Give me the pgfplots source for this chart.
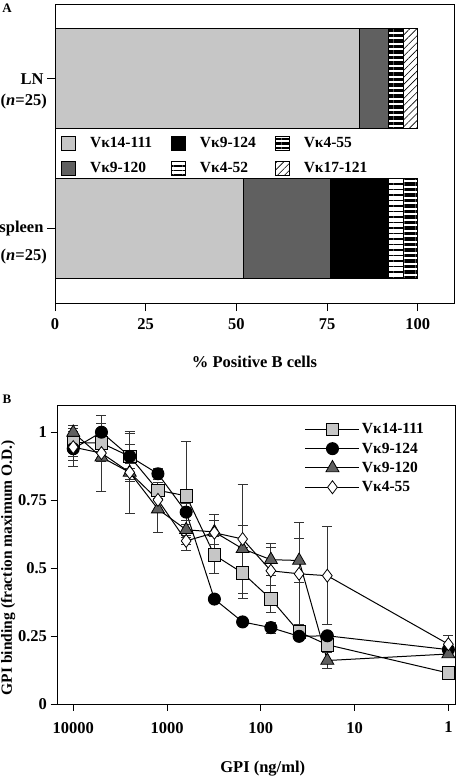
\documentclass[border=0pt]{standalone}
\usepackage{fontspec}
\setmainfont{Liberation Serif}
\usepackage{pgfplots}
\pgfplotsset{compat=1.18}
\usetikzlibrary{patterns.meta}

\definecolor{lgray}{RGB}{198,198,198}
\definecolor{dgray}{RGB}{96,96,96}
\newcommand{\fs}{\fontsize{16.5}{19}\selectfont\bfseries}
\newcommand{\fl}{\fontsize{15.5}{18}\selectfont\bfseries}

\pgfplotstableread{
x y e
10000 0.962 0.05
5000 0.960 0.03
2500 0.911 0.043
1250 0.786 0.03
625 0.766 0.20
312.5 0.548 0.068
156.25 0.482 0.093
78.125 0.386 0.05
39.0625 0.265 0.02
19.53 0.218 0.02
1 0.114 0.01
}\tabA
\pgfplotstableread{
x y e
10000 0.939 0.065
5000 1.000 0.06
2500 0.911 0.085
1250 0.847 0.02
625 0.706 0.03
312.5 0.386 0.01
156.25 0.302 0.01
78.125 0.281 0.02
39.0625 0.249 0.01
19.53 0.251 0.01
1 0.200 0.02
}\tabB
\pgfplotstableread{
x y e
10000 0.999 0.025
5000 0.908 0.125
2500 0.852 0.033
1250 0.717 0.085
625 0.641 0.02
312.5 0.633 0.066
156.25 0.571 0.085
78.125 0.531 0.06
39.0625 0.528 0.08
19.53 0.160 0.03
1 0.184 0.01
}\tabC
\pgfplotstableread{
x y e
10000 0.945 0.05
5000 0.923 0.03
2500 0.852 0.15
1250 0.751 0.04
625 0.600 0.014
312.5 0.630 0.044
156.25 0.607 0.2
78.125 0.490 0.086
39.0625 0.479 0.188
19.53 0.472 0.18
1 0.220 0.033
}\tabD

\begin{document}
\begin{tikzpicture}
\useasboundingbox (0,0) rectangle (458pt,-778pt);
\node[font=\fontsize{13}{15}\selectfont\bfseries] at (7pt,-8pt) {A};
\node[font=\fontsize{13}{15}\selectfont\bfseries] at (7pt,-399pt) {B};

\begin{axis}[
  at={(55pt,-4pt)}, anchor=north west,
  scale only axis, width=399pt, height=299pt,
  clip=false,
  xbar stacked, bar width=0.667,
  xmin=0, xmax=110, ymin=-0.5, ymax=1.5,
  xtick={0,25,50,75,100},
  ytick={0,1}, yticklabels={spleen,LN},
  xtick pos=bottom, ytick pos=left,
  tick align=outside, major tick length=8pt,
  tick style={black, line width=0.9pt},
  axis line style={black, line width=0.9pt},
  ticklabel style={font=\fs},
  xticklabel style={yshift=-4pt},
  /pgf/number format/assume math mode=true,
  xlabel={\% Positive B cells},
  xlabel style={font=\fs, at={(axis description cs:0.5,-0.197)}, anchor=center},
  legend columns=3,
  legend cell align=left,
  legend style={at={(rel axis cs:0.008,0.567)}, anchor=north west, draw=none, fill=none, font=\fl,
    /tikz/every even column/.append style={column sep=17pt},
    /tikz/every odd column/.append style={column sep=12pt},
    row sep=9pt},
  legend image code/.code={\draw[#1, draw=black, line width=0.8pt] (0pt,-7pt) rectangle (14pt,7pt);},
]
\addplot[forget plot, fill=lgray, draw=black, line width=0.8pt] coordinates {(52,0) (84,1)};
\addplot[forget plot, fill=dgray, draw=black, line width=0.8pt] coordinates {(24,0) (8,1)};
\addplot[forget plot, fill=black, draw=black, line width=0.8pt] coordinates {(16,0) (0,1)};
\addplot[forget plot, pattern={Lines[angle=0,distance=5.5pt,line width=1.6pt]}, draw=black, line width=0.8pt] coordinates {(4,0) (0,1)};
\addplot[forget plot, pattern={Lines[angle=0,distance=5.5pt,line width=3.6pt]}, draw=black, line width=0.8pt] coordinates {(4,0) (4,1)};
\addplot[forget plot, pattern={Lines[angle=45,distance=5pt,line width=0.6pt]}, draw=black, line width=0.8pt] coordinates {(0,0) (4,1)};
\addlegendimage{fill=lgray}
\addlegendimage{fill=black}
\addlegendimage{pattern={Lines[angle=0,distance=4.5pt,line width=2.8pt]}}
\addlegendimage{fill=dgray}
\addlegendimage{pattern={Lines[angle=0,distance=4.5pt,line width=1.3pt]}}
\addlegendimage{pattern={Lines[angle=45,distance=5pt,line width=0.6pt]}}
\legend{Vκ14-111, Vκ9-124, Vκ4-55, Vκ9-120, Vκ4-52, Vκ17-121}
\node[anchor=east, inner sep=0pt, font=\fs] at (axis cs:0,0.845) [xshift=-8pt] {(\textit{n}=25)};
\node[anchor=east, inner sep=0pt, font=\fs] at (axis cs:0,-0.19) [xshift=-8pt] {(\textit{n}=25)};
\end{axis}

\begin{axis}[
  at={(57pt,-405pt)}, anchor=north west,
  scale only axis, width=398pt, height=299pt,
  xmode=log, x dir=reverse,
  xmin=0.85, xmax=14900, ymin=0, ymax=1.1,
  xtick={1,10,100,1000,10000}, xticklabels={1,10,100,1000,10000},
  xminorticks=false,
  ytick={0,0.25,0.5,0.75,1}, yticklabels={0,0.25,0.5,0.75,1},
  xtick pos=bottom, ytick pos=left,
  tick align=outside, major tick length=6.5pt,
  tick style={black, line width=0.9pt},
  axis line style={black, line width=0.9pt},
  ticklabel style={font=\fs},
  xticklabel style={yshift=-8pt},
  /pgf/number format/assume math mode=true,
  xlabel={GPI (ng/ml)},
  xlabel style={font=\fs, at={(axis description cs:0.517,-0.217)}, anchor=center},
  ylabel={GPI binding (fraction maximum O.D.)},
  ylabel style={font=\fontsize{15.5}{18}\selectfont\bfseries, at={(axis description cs:-0.123,0.456)}, anchor=center},
  legend cell align=left,
  legend style={at={(rel axis cs:0.615,0.952)}, anchor=north west, draw=none, fill=none, font=\fl,
    row sep=3.5pt, /tikz/every even column/.append style={column sep=27pt}},
  legend image code/.code={\draw[mark repeat=2, mark phase=2, #1] plot coordinates {(0pt,0pt) (27pt,0pt) (54pt,0pt)};},
  error bars/y dir=both, error bars/y explicit,
  error bars/error bar style={line width=1pt, black!80},
  error bars/error mark options={rotate=90, mark size=5pt, line width=1pt, black!80},
]
\addplot[black, line width=1pt, mark=square*, mark size=6.2pt, mark options={fill=lgray, draw=black, line width=0.8pt}]
  table[x=x, y=y, y error=e] {\tabA};
\addplot[black, line width=1pt, mark=*, mark size=6pt, mark options={fill=black, draw=black}]
  table[x=x, y=y, y error=e] {\tabB};
\addplot[black, line width=1pt, mark=triangle*, mark size=7.5pt, mark options={fill=dgray, draw=black, line width=0.8pt}]
  table[x=x, y=y, y error=e] {\tabC};
\addplot[black, line width=1pt, mark=diamond*, mark size=6.5pt, mark options={fill=white, draw=black, line width=0.8pt}]
  table[x=x, y=y, y error=e] {\tabD};
\legend{Vκ14-111, Vκ9-124, Vκ9-120, Vκ4-55}
\end{axis}
\end{tikzpicture}
\end{document}
